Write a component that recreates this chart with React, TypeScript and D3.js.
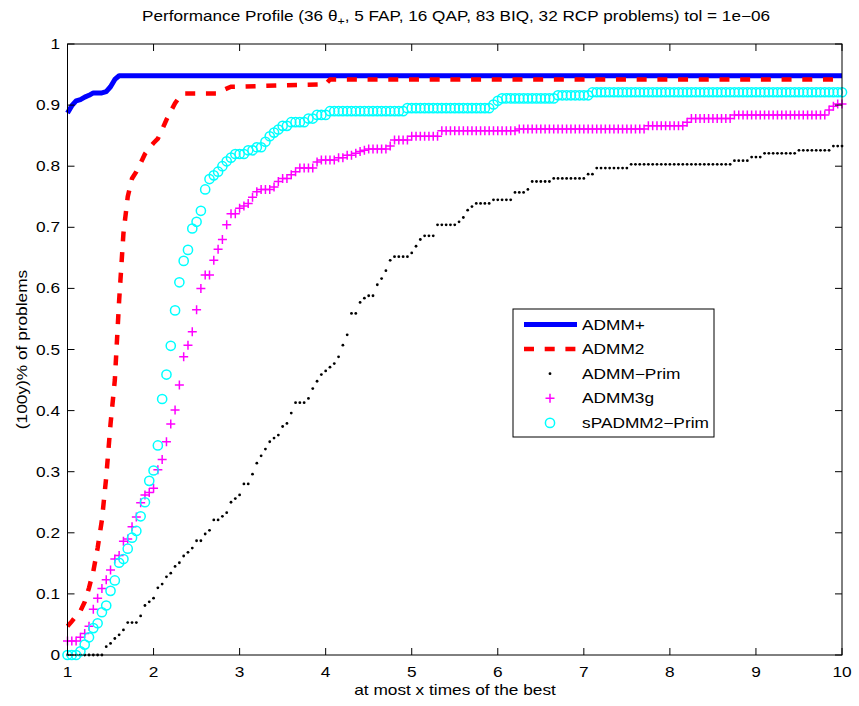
import React from "react";
import * as d3 from "d3";

// ---- data ----
const xTicks = [1, 2, 3, 4, 5, 6, 7, 8, 9, 10];
const yTicks = [0, 0.1, 0.2, 0.3, 0.4, 0.5, 0.6, 0.7, 0.8, 0.9, 1];
const yTickLabels = ["0", "0.1", "0.2", "0.3", "0.4", "0.5", "0.6", "0.7", "0.8", "0.9", "1"];
const gridStart = 1;
const gridStep = 0.05;
const gridCount = 181;

// line series: [tau, fraction]
const admmPlus: [number, number][] = [
  [1, 0.887], [1.05, 0.899], [1.1, 0.907], [1.15, 0.909], [1.2, 0.913], [1.25, 0.916],
  [1.3, 0.92], [1.35, 0.92], [1.4, 0.92], [1.45, 0.922], [1.5, 0.93], [1.55, 0.942],
  [1.6, 0.948], [10, 0.948],
];
const admm2: [number, number][] = [
  [1, 0.047], [1.05, 0.055], [1.1, 0.064], [1.15, 0.072], [1.2, 0.087], [1.25, 0.11],
  [1.3, 0.137], [1.35, 0.175], [1.4, 0.221], [1.45, 0.291], [1.5, 0.378], [1.55, 0.45],
  [1.6, 0.58], [1.65, 0.69], [1.7, 0.75], [1.75, 0.78], [1.8, 0.791], [1.85, 0.805],
  [1.9, 0.82], [1.95, 0.83], [2.0, 0.838], [2.05, 0.845], [2.1, 0.86], [2.15, 0.876],
  [2.2, 0.89], [2.25, 0.903], [2.3, 0.913], [2.35, 0.919], [2.75, 0.919], [2.8, 0.924],
  [2.9, 0.93], [4.0, 0.934], [4.05, 0.942], [10, 0.942],
];
// marker series, run-length: [fraction, number of consecutive grid points]
const admmPrim: [number, number][] = [
  [0, 9], [0.0136, 1], [0.019, 1], [0.027, 1], [0.033, 1], [0.041, 1], [0.053, 3],
  [0.064, 1], [0.081, 1], [0.087, 1], [0.093, 1], [0.11, 1], [0.116, 1], [0.128, 1],
  [0.134, 1], [0.145, 1], [0.151, 1], [0.162, 1], [0.168, 1], [0.175, 1], [0.187, 2],
  [0.198, 1], [0.204, 1], [0.221, 2], [0.227, 1], [0.233, 1], [0.25, 1], [0.256, 1],
  [0.262, 1], [0.28, 2], [0.296, 1], [0.314, 1], [0.326, 1], [0.337, 1], [0.349, 1],
  [0.355, 1], [0.36, 1], [0.374, 1], [0.379, 1], [0.396, 1], [0.413, 3], [0.42, 1],
  [0.436, 1], [0.448, 1], [0.459, 1], [0.465, 1], [0.471, 1], [0.477, 1], [0.488, 1],
  [0.507, 1], [0.524, 1], [0.559, 2], [0.577, 1], [0.584, 1], [0.588, 2], [0.606, 1],
  [0.616, 1], [0.629, 1], [0.646, 1], [0.652, 4], [0.658, 1], [0.669, 1], [0.68, 1],
  [0.686, 3], [0.704, 5], [0.709, 1], [0.716, 1], [0.728, 1], [0.734, 1], [0.739, 4],
  [0.745, 5], [0.757, 3], [0.762, 1], [0.775, 5], [0.78, 8], [0.787, 2], [0.797, 8],
  [0.803, 24], [0.809, 4], [0.815, 3], [0.821, 8], [0.826, 8], [0.833, 3],
];
const admm3g: [number, number][] = [
  [0.023, 3], [0.029, 1], [0.035, 1], [0.047, 1], [0.075, 1], [0.093, 1], [0.109, 1],
  [0.123, 1], [0.139, 1], [0.157, 1], [0.163, 1], [0.186, 1], [0.19, 1], [0.21, 1],
  [0.226, 1], [0.249, 1], [0.262, 1], [0.266, 1], [0.273, 1], [0.303, 1], [0.32, 1],
  [0.349, 1], [0.378, 1], [0.401, 1], [0.442, 1], [0.488, 1], [0.507, 1], [0.529, 1],
  [0.565, 1], [0.6, 1], [0.622, 2], [0.646, 1], [0.664, 1], [0.68, 1], [0.704, 1],
  [0.722, 2], [0.731, 1], [0.735, 1], [0.739, 1], [0.749, 1], [0.758, 1], [0.762, 3],
  [0.766, 1], [0.775, 1], [0.78, 2], [0.786, 1], [0.791, 1], [0.797, 4], [0.807, 1],
  [0.81, 4], [0.814, 2], [0.818, 2], [0.821, 1], [0.824, 1], [0.826, 1], [0.828, 5],
  [0.833, 1], [0.843, 4], [0.849, 7], [0.858, 18], [0.861, 30], [0.866, 9], [0.872, 1],
  [0.878, 10], [0.884, 22], [0.892, 1], [0.898, 1], [0.902, 2],
];
const spadmm2Prim: [number, number][] = [
  [0, 3], [0.006, 1], [0.017, 1], [0.029, 1], [0.044, 1], [0.052, 1], [0.07, 1],
  [0.081, 1], [0.105, 1], [0.122, 1], [0.151, 1], [0.157, 1], [0.174, 1], [0.192, 1],
  [0.203, 1], [0.227, 1], [0.25, 1], [0.285, 1], [0.302, 1], [0.343, 1], [0.419, 1],
  [0.459, 1], [0.506, 1], [0.564, 1], [0.61, 1], [0.645, 1], [0.663, 1], [0.698, 1],
  [0.709, 1], [0.727, 1], [0.762, 1], [0.779, 1], [0.785, 1], [0.791, 1], [0.8, 1],
  [0.808, 1], [0.814, 1], [0.82, 3], [0.826, 2], [0.831, 2], [0.84, 1], [0.849, 1],
  [0.855, 1], [0.86, 1], [0.866, 2], [0.872, 4], [0.878, 2], [0.884, 3], [0.89, 18],
  [0.895, 20], [0.901, 1], [0.907, 1], [0.911, 13], [0.916, 8], [0.921, 59],
];
const legendLabels = ["ADMM+", "ADMM2", "ADMM\u2212Prim", "ADMM3g", "sPADMM2\u2212Prim"];

// ---- helpers ----
const tauGrid = d3.range(gridCount).map((i) => gridStart + i * gridStep);
function expand(rle: [number, number][]): [number, number][] {
  const vals: number[] = [];
  rle.forEach(([v, n]) => { for (let k = 0; k < n; k++) vals.push(v); });
  return vals.slice(0, gridCount).map((v, i) => [tauGrid[i], v]);
}

const W = 859, H = 706;
const L = 67.5, R = 842, T = 44, B = 655;
const font = "'Liberation Sans', Arial, Helvetica, sans-serif";
const SX = 1.235; // horizontal glyph stretch of the reference's font

function Txt(props: { x: number; y: number; anchor?: string; rotate?: number; size?: number; children: React.ReactNode }) {
  const { x, y, anchor = "start", rotate = 0, size = 14, children } = props;
  return (
    <text
      transform={`translate(${x},${y})${rotate ? ` rotate(${rotate})` : ""} scale(${SX},1)`}
      textAnchor={anchor}
      fontSize={size}
      fill="#000"
    >
      {children}
    </text>
  );
}

export default function App() {
  const x = d3.scaleLinear().domain([1, 10]).range([L, R]);
  const y = d3.scaleLinear().domain([0, 1]).range([B, T]);
  const line = d3.line<[number, number]>().x((d) => x(d[0])).y((d) => y(d[1]));

  const primPts = expand(admmPrim);
  const g3Pts = expand(admm3g);
  const spPts = expand(spadmm2Prim);
  const tick = 7;
  const plus = (cx: number, cy: number, s: number) => `M${cx - s},${cy}H${cx + s}M${cx},${cy - s}V${cy + s}`;

  const legX = 513, legY = 309, legW = 201, legH = 128;
  const rowY = (k: number) => 324.5 + k * 24.6;

  return (
    <svg width={W} height={H} style={{ position: "absolute", left: 0, top: 0, background: "#fff" }} fontFamily={font}>
      <rect x={0} y={0} width={W} height={H} fill="#fff" />
      {/* title */}
      <Txt x={456} y={21} anchor="middle" size={13.9}>
        Performance Profile (36 θ<tspan dy={4} fontSize={10}>+</tspan><tspan dy={-4}>, 5 FAP, 16 QAP, 83 BIQ, 32 RCP problems) tol = 1e−06</tspan>
      </Txt>
      <defs>
        <clipPath id="plotclip"><rect x={L - 6} y={T - 6} width={R - L + 12} height={B - T + 12} /></clipPath>
      </defs>
      <g clipPath="url(#plotclip)">
        <path d={line(admmPlus) || ""} fill="none" stroke="#0000ff" strokeWidth={5} strokeLinejoin="round" />
        <path d={line(admm2) || ""} fill="none" stroke="#ff0000" strokeWidth={4.5} strokeDasharray="10 10.7" />
        {primPts.map((d, i) => (
          <circle key={"p" + i} cx={x(d[0])} cy={y(d[1])} r={1.4} fill="#000" />
        ))}
        {g3Pts.map((d, i) => (
          <path key={"g" + i} d={plus(x(d[0]), y(d[1]), 4.5)} stroke="#ff00ff" strokeWidth={1.5} fill="none" />
        ))}
        {spPts.map((d, i) => (
          <circle key={"s" + i} cx={x(d[0])} cy={y(d[1])} r={4.6} fill="none" stroke="#00ffff" strokeWidth={1.5} />
        ))}
      </g>
      {/* axes box */}
      <rect x={L} y={T} width={R - L} height={B - T} fill="none" stroke="#000" strokeWidth={1} />
      {xTicks.map((t) => (
        <g key={"xt" + t}>
          <line x1={x(t)} x2={x(t)} y1={B} y2={B - tick} stroke="#000" />
          <line x1={x(t)} x2={x(t)} y1={T} y2={T + tick} stroke="#000" />
          <Txt x={x(t)} y={677} anchor="middle">{t}</Txt>
        </g>
      ))}
      {yTicks.map((t, i) => (
        <g key={"yt" + t}>
          <line x1={L} x2={L + tick} y1={y(t)} y2={y(t)} stroke="#000" />
          <line x1={R} x2={R - tick} y1={y(t)} y2={y(t)} stroke="#000" />
          <Txt x={60} y={y(t) + 5} anchor="end">{yTickLabels[i]}</Txt>
        </g>
      ))}
      <Txt x={455} y={695} anchor="middle">at most x times of the best</Txt>
      <Txt x={27} y={(T + B) / 2} anchor="middle" rotate={-90}>(100y)% of problems</Txt>
      {/* legend */}
      <rect x={legX} y={legY} width={legW} height={legH} fill="#fff" stroke="#000" strokeWidth={1} />
      <line x1={524} x2={577} y1={rowY(0)} y2={rowY(0)} stroke="#0000ff" strokeWidth={5} />
      <line x1={524} x2={577} y1={rowY(1)} y2={rowY(1)} stroke="#ff0000" strokeWidth={4.5} strokeDasharray="10 10.7" />
      <circle cx={550} cy={rowY(2)} r={1.4} fill="#000" />
      <path d={plus(550, rowY(3), 4.5)} stroke="#ff00ff" strokeWidth={1.5} fill="none" />
      <circle cx={550} cy={rowY(4)} r={4.6} fill="none" stroke="#00ffff" strokeWidth={1.5} />
      {legendLabels.map((s, k) => (
        <Txt key={s} x={582} y={rowY(k) + 5}>{s}</Txt>
      ))}
    </svg>
  );
}
